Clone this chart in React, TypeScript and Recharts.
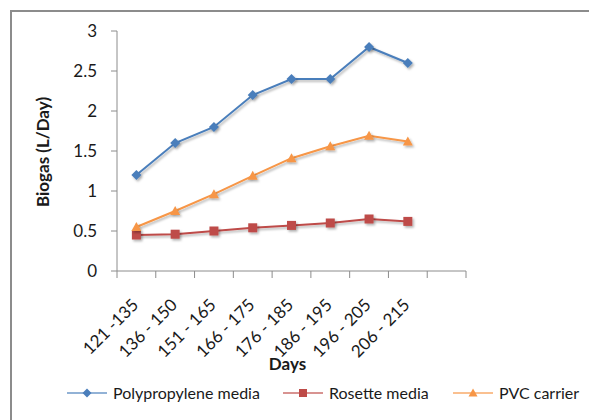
import React from "react";
import { LineChart, Line, XAxis, YAxis } from "recharts";

// day ranges on the x axis; the trailing empty slot leaves room after the last point
const days = [
  "121 -135",
  "136 - 150",
  "151 - 165",
  "166 - 175",
  "176 - 185",
  "186 - 195",
  "196 - 205",
  "206 - 215",
  "",
];
const polypropylene = [1.2, 1.6, 1.8, 2.2, 2.4, 2.4, 2.8, 2.6];
const rosette = [0.45, 0.46, 0.5, 0.54, 0.57, 0.6, 0.65, 0.62];
const pvc = [0.55, 0.75, 0.96, 1.19, 1.41, 1.56, 1.69, 1.62];
const yTicks = [0, 0.5, 1, 1.5, 2, 2.5, 3];

const data = days.map((day, i) => ({
  day,
  poly: polypropylene[i] ?? null,
  rosette: rosette[i] ?? null,
  pvc: pvc[i] ?? null,
}));

const W = 589;
const H = 420;
const margin = { top: 31, right: 123, bottom: 40, left: 0 };
const Y_AXIS_W = 117;
const PLOT_W = W - margin.left - margin.right - Y_AXIS_W;
const BAND = PLOT_W / days.length;

const BLUE = "#4a7ebb";
const RED = "#be4b48";
const ORANGE = "#f79646";
const AXIS_GRAY = "#8c8c8c";
const TEXT = "#1a1a1a";
const FONT = "Lato, 'Open Sans', sans-serif";

type Shape = "diamond" | "square" | "triangle";

function Marker({ cx, cy, color, shape, size = 5 }: { cx: number; cy: number; color: string; shape: Shape; size?: number }) {
  if (shape === "diamond") {
    const s = size;
    return <path d={`M${cx},${cy - s} L${cx + s},${cy} L${cx},${cy + s} L${cx - s},${cy} Z`} fill={color} />;
  }
  if (shape === "square") {
    const s = size - 0.5;
    return <rect x={cx - s} y={cy - s} width={s * 2} height={s * 2} fill={color} />;
  }
  const s = size;
  return <path d={`M${cx},${cy - s} L${cx + s},${cy + s * 0.8} L${cx - s},${cy + s * 0.8} Z`} fill={color} />;
}

const dotFor = (color: string, shape: Shape) => (props: any) => {
  const { cx, cy, index } = props;
  if (cx == null || cy == null || props.value == null) return <g key={`d-${shape}-${index}`} />;
  return (
    <g key={`d-${shape}-${index}`} filter="url(#soft)">
      <Marker cx={cx} cy={cy} color={color} shape={shape} />
    </g>
  );
};

function DayTick(props: any) {
  const { x, y, payload, index } = props;
  const left = x - BAND / 2;
  const tx = x + 3;
  const ty = y + 35;
  return (
    <g>
      <line x1={left} y1={y} x2={left} y2={y + 7} stroke={AXIS_GRAY} />
      {index === days.length - 1 && (
        <line x1={x + BAND / 2} y1={y} x2={x + BAND / 2} y2={y + 7} stroke={AXIS_GRAY} />
      )}
      {payload.value ? (
        <text
          x={tx}
          y={ty}
          transform={`rotate(-45, ${tx}, ${ty})`}
          textAnchor="end"
          fontSize={17}
          fontFamily={FONT}
          fill={TEXT}
        >
          {payload.value}
        </text>
      ) : null}
    </g>
  );
}

const legendItems: { label: string; color: string; shape: Shape }[] = [
  { label: "Polypropylene media", color: BLUE, shape: "diamond" },
  { label: "Rosette media", color: RED, shape: "square" },
  { label: "PVC carrier", color: ORANGE, shape: "triangle" },
];
const legendX = [67, 283, 453];

function ChartLegend() {
  return (
    <svg width={W} height={30} style={{ position: "absolute", left: 0, top: 378 }}>
      {legendItems.map((item, i) => {
        const x = legendX[i];
        return (
          <g key={item.label}>
            <line x1={x} y1={15} x2={x + 40} y2={15} stroke={item.color} strokeWidth={2} strokeOpacity={0.6} />
            <Marker cx={x + 20} cy={15} color={item.color} shape={item.shape} size={4.5} />
            <text x={x + 46} y={20.5} fontSize={16} fontFamily={FONT} fill={TEXT}>
              {item.label}
            </text>
          </g>
        );
      })}
    </svg>
  );
}

export default function App() {
  return (
    <div style={{ position: "absolute", left: 0, top: 0, width: W, height: H, overflow: "hidden", background: "#fff" }}>
      <svg width={0} height={0} style={{ position: "absolute" }}>
        <defs>
          <filter id="soft" x="-50%" y="-50%" width="200%" height="200%">
            <feDropShadow dx={1.5} dy={1.8} stdDeviation={1.2} floodColor="#000" floodOpacity={0.3} />
          </filter>
        </defs>
      </svg>
      <div
        style={{
          position: "absolute",
          left: 10,
          top: 10,
          width: W,
          height: H,
          borderLeft: `2px solid ${AXIS_GRAY}`,
          borderTop: `2px solid ${AXIS_GRAY}`,
        }}
      />
      <div style={{ position: "absolute", left: 0, top: 0 }}>
        <LineChart width={W} height={H} data={data} margin={margin}>
          <XAxis
            dataKey="day"
            scale="band"
            interval={0}
            tickLine={false}
            tickSize={0}
            tickMargin={0}
            height={H - margin.top - margin.bottom - 240}
            axisLine={{ stroke: AXIS_GRAY }}
            tick={<DayTick />}
            label={{
              content: ({ viewBox }: any) => (
                <text
                  x={viewBox.x + viewBox.width / 2 - 4}
                  y={viewBox.y + 99}
                  textAnchor="middle"
                  fontSize={17}
                  fontWeight="bold"
                  fontFamily={FONT}
                  fill={TEXT}
                >
                  Days
                </text>
              ),
            }}
          />
          <YAxis
            width={Y_AXIS_W}
            domain={[0, 3]}
            ticks={yTicks}
            interval={0}
            tickSize={6}
            tickMargin={14}
            axisLine={{ stroke: AXIS_GRAY }}
            tickLine={{ stroke: AXIS_GRAY }}
            tick={{ fill: TEXT, fontSize: 17, fontFamily: FONT }}
            label={{
              content: ({ viewBox }: any) => {
                const cx = 49;
                const cy = viewBox.y + viewBox.height / 2 + 1;
                return (
                  <text
                    x={cx}
                    y={cy}
                    transform={`rotate(-90, ${cx}, ${cy})`}
                    textAnchor="middle"
                    fontSize={17}
                    fontWeight="bold"
                    fontFamily={FONT}
                    fill={TEXT}
                  >
                    Biogas (L/Day)
                  </text>
                );
              },
            }}
          />
          <Line
            dataKey="poly"
            name="Polypropylene media"
            stroke={BLUE}
            strokeWidth={2}
            filter="url(#soft)"
            dot={dotFor(BLUE, "diamond")}
            activeDot={false}
            isAnimationActive={false}
          />
          <Line
            dataKey="rosette"
            name="Rosette media"
            stroke={RED}
            strokeWidth={2}
            filter="url(#soft)"
            dot={dotFor(RED, "square")}
            activeDot={false}
            isAnimationActive={false}
          />
          <Line
            dataKey="pvc"
            name="PVC carrier"
            stroke={ORANGE}
            strokeWidth={2}
            filter="url(#soft)"
            dot={dotFor(ORANGE, "triangle")}
            activeDot={false}
            isAnimationActive={false}
          />
        </LineChart>
      </div>
      <ChartLegend />
    </div>
  );
}
